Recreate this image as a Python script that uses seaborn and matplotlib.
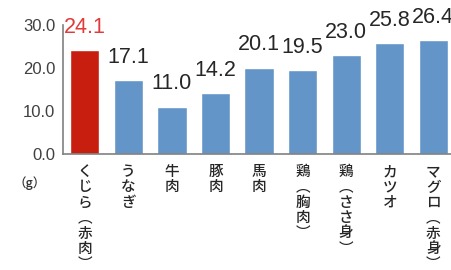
import matplotlib
matplotlib.use("Agg")
import matplotlib.pyplot as plt
import seaborn as sns
import numpy as np

# data
foods = ["くじら（赤肉）", "うなぎ", "牛肉", "豚肉", "馬肉",
         "鶏（胸肉）", "鶏（ささ身）", "カツオ", "マグロ（赤身）"]
protein = [24.1, 17.1, 11.0, 14.2, 20.1, 19.5, 23.0, 25.8, 26.4]
yticks = [0, 10, 20, 30]

RED = "#C81E10"
BLUE = "#6395C8"
colors = [RED] + [BLUE] * (len(foods) - 1)

sns.set_style("white")
plt.rcParams["font.family"] = ["Liberation Sans", "Noto Sans CJK JP", "DejaVu Sans"]


def vertical(s):
    # stack characters, parentheses turned into vertical forms
    s = s.replace("（", "︵").replace("）", "︶")
    return "\n".join(s)


fig = plt.figure(figsize=(4.52, 2.70), dpi=100)
ax = fig.add_axes([63 / 452, 1 - 154 / 270, (452 - 63) / 452 * 1.008, (154 - 25) / 270])

sns.barplot(x=foods, y=protein, hue=foods, palette=colors, legend=False,
            width=0.67, saturation=1, ax=ax)

ax.set_ylim(0, 30)
ax.set_xlim(-0.5, len(foods) - 0.5)
ax.set_yticks(yticks)
ax.set_yticklabels([f"{v:.1f}" for v in yticks], fontsize=12, color="#404040")

ax.set_xticks(range(len(foods)))
ax.set_xticklabels([vertical(f) for f in foods], family=["Noto Sans CJK JP"],
                   fontsize=10.5, linespacing=1.12, va="top", weight="medium")
ax.set_xticks(np.arange(-0.5, len(foods)), minor=True)
ax.tick_params(axis="x", which="major", length=0, pad=8)
ax.tick_params(axis="x", which="minor", length=7, direction="inout", color="#808080", width=1)
ax.tick_params(axis="y", length=7, direction="inout", color="#808080", width=1, pad=2)

for side in ["top", "right"]:
    ax.spines[side].set_visible(False)
for side in ["left", "bottom"]:
    ax.spines[side].set_color("#808080")
    ax.spines[side].set_linewidth(1.2)

ax.set_xlabel("")
ax.set_ylabel("")

for i, v in enumerate(protein):
    ax.annotate(f"{v:.1f}", (i, v), xytext=(0, 12.5), textcoords="offset points",
                ha="center", va="baseline", fontsize=15.5,
                color="#E03A3A" if i == 0 else "#262626", clip_on=False)

fig.text(30 / 452, 1 - 183 / 270, "（g）", family=["Noto Sans CJK JP"],
         fontsize=9, ha="center", va="center", color="#333333", weight="medium")

fig.savefig("out.png", dpi=100)
